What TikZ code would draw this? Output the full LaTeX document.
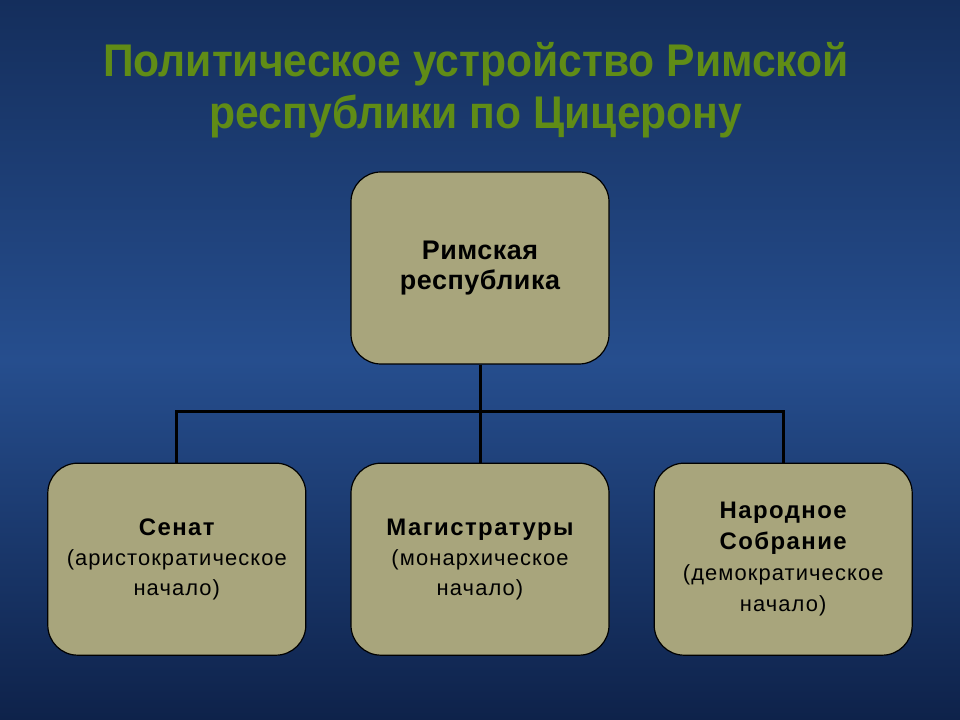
\documentclass[tikz,border=0pt]{standalone}
\usepackage{fontspec}
\setmainfont{Liberation Sans}
\newfontfamily\titlefont[FakeStretch=0.93]{Liberation Sans}
\newfontfamily\headfont[LetterSpace=2]{Liberation Sans}
\newfontfamily\labelfont[LetterSpace=6]{Liberation Sans}
\newfontfamily\notefont[LetterSpace=5]{Liberation Sans}
\usepackage{tikz}
\usetikzlibrary{positioning,calc}
\definecolor{slidetop}{RGB}{20,46,92}
\definecolor{slidemid}{RGB}{38,78,142}
\definecolor{slidebot}{RGB}{14,34,74}
\definecolor{titlegreen}{RGB}{96,140,22}
\definecolor{khaki}{RGB}{168,165,124}
\tikzstyle{line} = [draw, line width=3bp]
\tikzstyle{block} = [draw, line width=1.2bp, fill=khaki, rounded corners=30bp, text centered, align=center, minimum width=258bp, minimum height=192bp, inner sep=0pt]
\newcommand{\lbl}[1]{{\labelfont\bfseries\fontsize{24}{30}\selectfont #1}}
\newcommand{\note}[1]{{\notefont #1}}

\begin{document}
\begin{tikzpicture}[x=1bp, y=1bp, node distance=44bp]
        \shade[top color=slidetop, bottom color=slidebot, middle color=slidemid] (0,0) rectangle (960,720);
        \useasboundingbox (0,0) rectangle (960,720);
        \node[text=titlegreen, align=center, font=\titlefont\bfseries\fontsize{46}{52}\selectfont] (title) at (476,630) {Политическое устройство Римской\\республики по Цицерону};
        \node[block, font=\headfont\bfseries\fontsize{27}{31}\selectfont] (rome) at (480,452) {Римская\\республика};
        \node[block, below=98bp of rome, font=\fontsize{22}{30}\selectfont] (magist) {\lbl{Магистратуры}\\\note{(монархическое}\\\note{начало)}};
        \node[block, left=of magist, font=\fontsize{22}{30}\selectfont] (senate) {\lbl{Сенат}\\\note{(аристократическое}\\\note{начало)}};
        \node[block, right=of magist, font=\fontsize{22}{31}\selectfont] (assembly) {\lbl{Народное}\\\lbl{Собрание}\\\note{(демократическое}\\\note{начало)}};
        \coordinate (split) at ($(rome.south)+(0,-47)$);
        \path[line] (rome.south) -- (split);
        \path[line] (split) -| (senate.north);
        \path[line] (split) -- (magist.north);
        \path[line] (split) -| (assembly.north);
    \end{tikzpicture}
\end{document}
